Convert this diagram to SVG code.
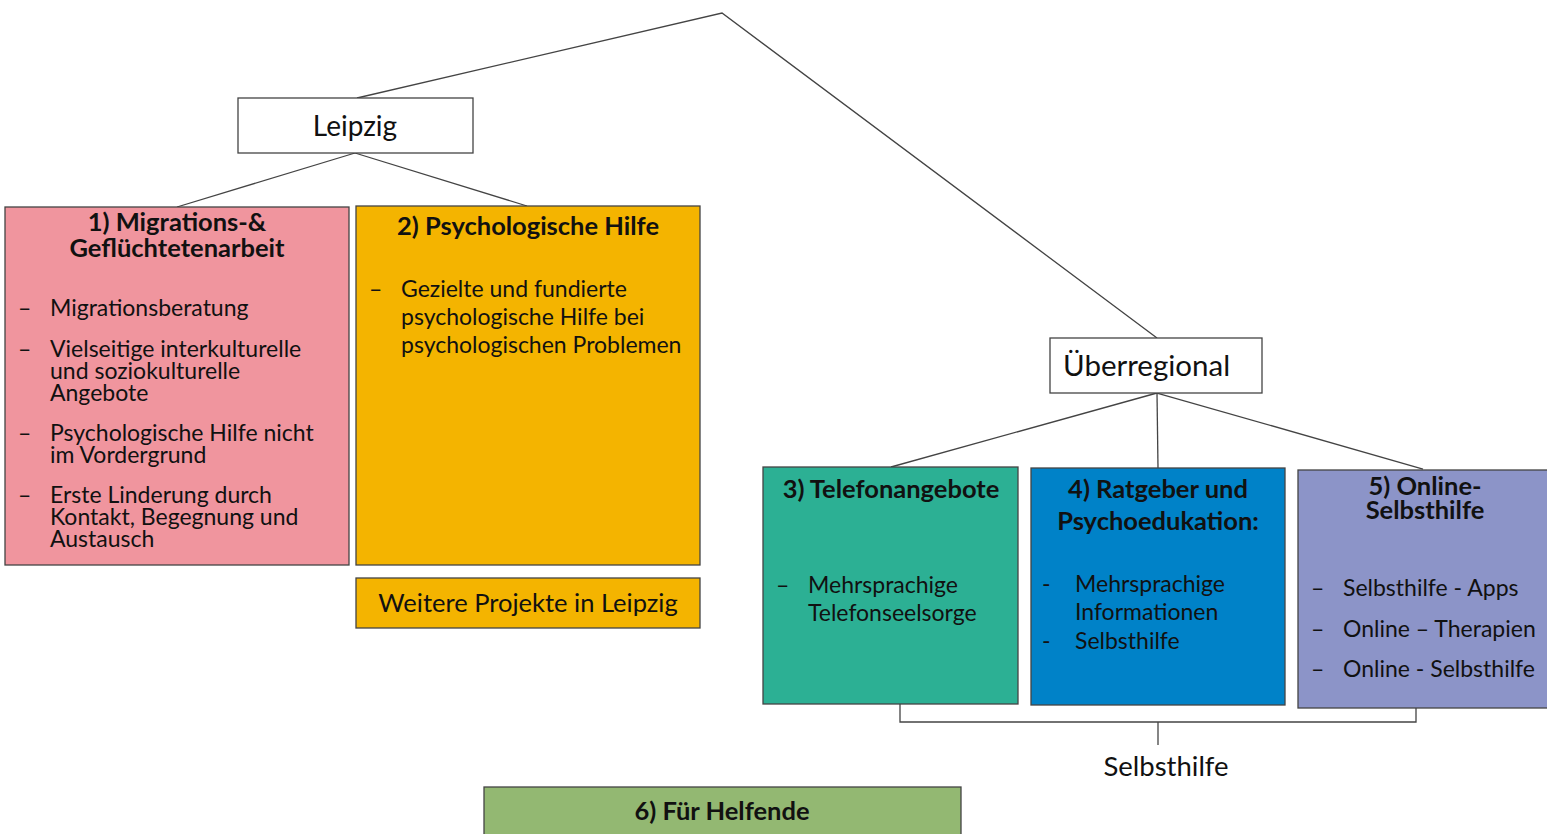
<svg xmlns="http://www.w3.org/2000/svg" width="1547" height="834" viewBox="0 0 1547 834">
<style>
text{font-family:Lato,"Noto Sans","Liberation Sans",sans-serif;fill:#111}
.box{stroke:#444;stroke-width:1.3}
.t{font-weight:bold;font-size:25.5px;text-anchor:middle}
.i{font-size:23px}
.c{fill:none;stroke:#444;stroke-width:1.3}
</style>
<rect width="1547" height="834" fill="#fff"/>
<g id="connectors">
<polyline class="c" points="357,98 722,13 1157,338"/>
<line class="c" x1="355" y1="153" x2="177" y2="207"/>
<line class="c" x1="355" y1="153" x2="527" y2="206"/>
<line class="c" x1="1157" y1="393" x2="891" y2="467"/>
<line class="c" x1="1157" y1="393" x2="1158" y2="468"/>
<line class="c" x1="1157" y1="393" x2="1423" y2="469"/>
<polyline class="c" points="900,704 900,722 1416,722 1416,708"/>
<line class="c" x1="1158" y1="722" x2="1158" y2="745"/>
<text x="1166" y="776" font-size="27.5" text-anchor="middle">Selbsthilfe</text>
</g>
<g id="leipzig">
<rect x="238" y="98" width="235" height="55" fill="#fff" class="box"/>
<text x="355" y="136" font-size="28" text-anchor="middle">Leipzig</text>
</g>
<g id="ueberregional">
<rect x="1050" y="338" width="212" height="55" fill="#fff" class="box"/>
<text x="1063" y="376" font-size="29.5">Überregional</text>
</g>
<g id="box1">
<rect x="5" y="207" width="344" height="358" fill="#F0959E" class="box"/>
<text class="t" x="177" y="231">1) Migrations-&amp;</text>
<text class="t" x="177" y="257">Geflüchtetenarbeit</text>
<g class="i">
<text x="18" y="316">–</text><text x="50" y="316">Migrationsberatung</text>
<text x="18" y="357">–</text><text x="50" y="357">Vielseitige interkulturelle</text>
<text x="50" y="379">und soziokulturelle</text>
<text x="50" y="401">Angebote</text>
<text x="18" y="441">–</text><text x="50" y="441">Psychologische Hilfe nicht</text>
<text x="50" y="463">im Vordergrund</text>
<text x="18" y="503">–</text><text x="50" y="503">Erste Linderung durch</text>
<text x="50" y="525">Kontakt, Begegnung und</text>
<text x="50" y="547">Austausch</text>
</g>
</g>
<g id="box2">
<rect x="356" y="206" width="344" height="359" fill="#F4B400" class="box"/>
<text class="t" x="528" y="235">2) Psychologische Hilfe</text>
<g class="i">
<text x="369" y="297">–</text><text x="401" y="297">Gezielte und fundierte</text>
<text x="401" y="325">psychologische Hilfe bei</text>
<text x="401" y="353">psychologischen Problemen</text>
</g>
</g>
<g id="weitere">
<rect x="356" y="578" width="344" height="50" fill="#F4B400" class="box"/>
<text x="528" y="612" font-size="25.5" text-anchor="middle">Weitere Projekte in Leipzig</text>
</g>
<g id="box3">
<rect x="763" y="467" width="255" height="237" fill="#2CB094" class="box"/>
<text class="t" x="891" y="498">3) Telefonangebote</text>
<g class="i">
<text x="776" y="593">–</text><text x="808" y="593">Mehrsprachige</text>
<text x="808" y="621">Telefonseelsorge</text>
</g>
</g>
<g id="box4">
<rect x="1031" y="468" width="254" height="237" fill="#0082C8" class="box"/>
<text class="t" x="1158" y="498">4) Ratgeber und</text>
<text class="t" x="1158" y="530">Psychoedukation:</text>
<g class="i">
<text x="1042" y="592">-</text><text x="1075" y="592">Mehrsprachige</text>
<text x="1075" y="620">Informationen</text>
<text x="1042" y="649">-</text><text x="1075" y="649">Selbsthilfe</text>
</g>
</g>
<g id="box5">
<rect x="1298" y="470" width="252" height="238" fill="#8C94C8" class="box"/>
<text class="t" x="1425" y="495">5) Online-</text>
<text class="t" x="1425" y="519">Selbsthilfe</text>
<g class="i">
<text x="1311" y="596">–</text><text x="1343" y="596">Selbsthilfe - Apps</text>
<text x="1311" y="637">–</text><text x="1343" y="637">Online – Therapien</text>
<text x="1311" y="677">–</text><text x="1343" y="677">Online - Selbsthilfe</text>
</g>
</g>
<g id="box6">
<rect x="484" y="787" width="477" height="60" fill="#93B872" class="box"/>
<text class="t" x="722" y="820">6) Für Helfende</text>
</g>
</svg>
